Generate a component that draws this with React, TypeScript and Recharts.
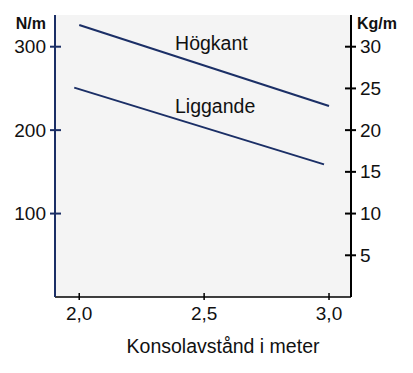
import React from "react";
import {
  LineChart, Line, XAxis, YAxis, CartesianGrid, ReferenceDot,
} from "recharts";

// Spännvidd (m) och last (N/m) läst ur diagrammet
const hogkantX = [2.0, 3.0];
const hogkantN = [326, 229];
const liggandeX = [1.98, 2.98];
const liggandeN = [251, 159];

const xTicks = [2.0, 2.5, 3.0];
const nTicks = [100, 200, 300];
const kgTicks = [5, 10, 15, 20, 25, 30];

const labelPos = [
  { name: "Högkant", x: 2.529, y: 304 },
  { name: "Liggande", x: 2.544, y: 229 },
];

const hogkant = hogkantX.map((x, i) => ({ x, n: hogkantN[i] }));
const liggande = liggandeX.map((x, i) => ({ x, n: liggandeN[i] }));

const NAVY = "#1b2f66";
const FONT = "'Liberation Sans', Arial, sans-serif";

const LeftTick = (p: any) => (
  <g>
    <line x1={p.x - 5} x2={p.x + 6} y1={p.y} y2={p.y} stroke={NAVY} strokeWidth={2} />
    <text x={p.x - 9} y={p.y} dy={6.5} textAnchor="end" fontSize={19} fill="#111" fontFamily={FONT}>
      {p.payload.value}
    </text>
  </g>
);

const RightTick = (p: any) => (
  <g>
    <line x1={p.x - 6} x2={p.x + 5} y1={p.y} y2={p.y} stroke="#000" strokeWidth={2} />
    <text x={p.x + 9} y={p.y} dy={6.5} textAnchor="start" fontSize={19} fill="#111" fontFamily={FONT}>
      {p.payload.value}
    </text>
  </g>
);

const BottomTick = (p: any) => (
  <g>
    <line x1={p.x} x2={p.x} y1={p.y - 4} y2={p.y + 3} stroke="#000" strokeWidth={1.5} />
    <text x={p.x} y={p.y + 23} textAnchor="middle" fontSize={19} fill="#111" fontFamily={FONT}>
      {p.payload.value.toFixed(1).replace(".", ",")}
    </text>
  </g>
);

export default function App() {
  return (
    <div style={{ position: "absolute", left: 0, top: 0, background: "#fff" }}>
      <LineChart
        width={413}
        height={373}
        margin={{ top: 15, right: 0, left: 0, bottom: 0 }}
      >
        <CartesianGrid fill="#f4f4f4" horizontal={false} vertical={false} />
        <XAxis
          dataKey="x"
          type="number"
          domain={[1.903, 3.088]}
          ticks={xTicks}
          allowDataOverflow
          height={76}
          stroke="#000"
          strokeWidth={1.5}
          tickSize={0}
          tickMargin={0}
          tickLine={false}
          tick={<BottomTick />}
          label={{
            content: ({ viewBox }: any) => (
              <text
                x={viewBox.x + viewBox.width / 2 + 20}
                y={viewBox.y + 56}
                textAnchor="middle"
                fontSize={19.5}
                fill="#111"
                fontFamily={FONT}
              >
                Konsolavstånd i meter
              </text>
            ),
          }}
        />
        <YAxis
          yAxisId="left"
          orientation="left"
          domain={[0, 338]}
          ticks={nTicks}
          allowDataOverflow
          width={55}
          stroke={NAVY}
          strokeWidth={2}
          tickSize={0}
          tickMargin={0}
          tickLine={false}
          tick={<LeftTick />}
          label={{
            content: ({ viewBox }: any) => (
              <text
                x={viewBox.x + viewBox.width - 9}
                y={viewBox.y + 14}
                textAnchor="end"
                fontSize={16}
                fontWeight="bold"
                fill="#111"
                fontFamily={FONT}
              >
                N/m
              </text>
            ),
          }}
        />
        <YAxis
          yAxisId="right"
          orientation="right"
          domain={[0, 33.8]}
          ticks={kgTicks}
          allowDataOverflow
          width={62}
          stroke="#000"
          strokeWidth={2}
          tickSize={0}
          tickMargin={0}
          tickLine={false}
          tick={<RightTick />}
          label={{
            content: ({ viewBox }: any) => (
              <text
                x={viewBox.x + 6}
                y={viewBox.y + 14}
                textAnchor="start"
                fontSize={16}
                fontWeight="bold"
                fill="#111"
                fontFamily={FONT}
              >
                Kg/m
              </text>
            ),
          }}
        />
        <Line
          yAxisId="left"
          data={hogkant}
          dataKey="n"
          stroke={NAVY}
          strokeWidth={2}
          dot={false}
          isAnimationActive={false}
        />
        <Line
          yAxisId="left"
          data={liggande}
          dataKey="n"
          stroke={NAVY}
          strokeWidth={2}
          dot={false}
          isAnimationActive={false}
        />
        {labelPos.map((l) => (
          <ReferenceDot
            key={l.name}
            yAxisId="left"
            x={l.x}
            y={l.y}
            r={0}
            fill="none"
            stroke="none"
            label={{
              value: l.name,
              position: "center",
              fontSize: 19.5,
              fill: "#111",
              fontFamily: FONT,
            }}
          />
        ))}
      </LineChart>
    </div>
  );
}
